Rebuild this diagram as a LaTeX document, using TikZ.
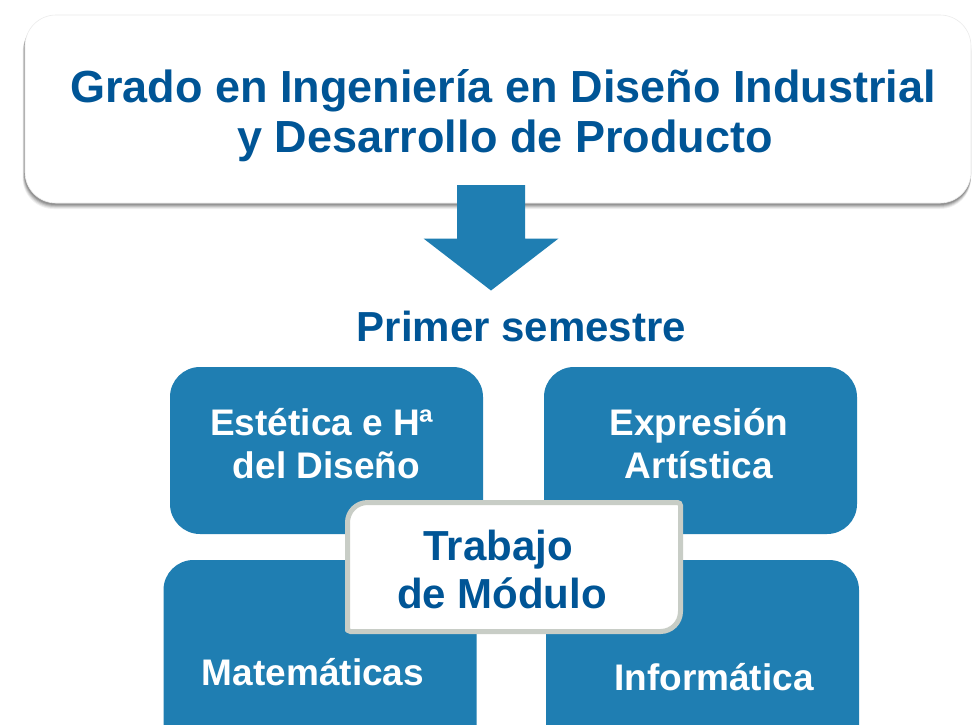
\documentclass[tikz,border=0pt]{standalone}
\usepackage{fontspec}
\setmainfont{Liberation Sans}
\definecolor{boxblue}{RGB}{31,126,178}
\definecolor{textblue}{RGB}{0,85,150}
\definecolor{bordergray}{RGB}{200,205,198}
\tikzset{
  bluebox/.style={fill=boxblue, draw=none, rounded corners=30pt, minimum width=313pt, inner sep=0pt},
  boxtext/.style={text=white, font=\bfseries\fontsize{37}{43}\selectfont, anchor=base, inner sep=0pt},
  titletext/.style={text=textblue, font=\bfseries\fontsize{45}{50}\selectfont, anchor=base, inner sep=0pt},
}
\begin{document}
\begin{tikzpicture}[x=1pt,y=-1pt]
\path[use as bounding box, clip] (0,0) rectangle (972,724);
\fill[white] (0,0) rectangle (972,724);

% top box shadow
\foreach \o/\a in {6/0.06,5/0.08,4/0.10,3/0.12,2/0.14}{
  \fill[black, opacity=\a, rounded corners=31pt] (25-\o*0.4,15+\o) rectangle (971,203+\o);
}
\node (top) [fill=white, draw=black!8, line width=0.6pt, rounded corners=31pt, minimum width=946pt, minimum height=188pt, inner sep=0pt] at (498,109) {};
\node (t1) [titletext] at (503,102) {Grado en Ingeniería en Diseño Industrial};
\node (t2) [titletext] at (505,152) {y Desarrollo de Producto};

% arrow
\fill[boxblue] (457,185) -- (525,185) -- (525,238.5) -- (558.5,238.5) -- (491,290.5) -- (423.5,238.5) -- (457,238.5) -- cycle;

\node (sem) [text=textblue, font=\bfseries\fontsize{42}{48}\selectfont, anchor=base, inner sep=0pt] at (521.5,341.5) {Primer semestre};

% blue boxes
\node (tl) [bluebox, minimum height=167pt] at (326.5,450.5) {};
\node (tr) [bluebox, minimum height=167pt] at (700.5,450.5) {};
\node (bl) [bluebox, minimum height=210pt] at (320,665) {};
\node (br) [bluebox, minimum height=210pt] at (702.5,665) {};

\node (tla) [boxtext] at (322,435) {Estética e Hª};
\node (tlb) [boxtext] at (326.5,478) {del Diseño};
\node (tra) [boxtext] at (699,435) {Expresión};
\node (trb) [boxtext] at (699,478) {Artística};
\node (bla) [boxtext] at (313,685) {Matemáticas};
\node (bra) [boxtext] at (714,690) {Informática};

% central box
\fill[white, draw=bordergray, line width=5pt]
  (347.5,631.5) -- (347.5,522.5) arc[start angle=180, end angle=270, radius=20]
  -- (677.5,502.5) arc[start angle=270, end angle=360, radius=3]
  -- (680.5,611.5) arc[start angle=0, end angle=90, radius=20]
  -- (350.5,631.5) arc[start angle=90, end angle=180, radius=3] -- cycle;
\node (tma) [text=textblue, font=\bfseries\fontsize{42}{48}\selectfont, anchor=base, inner sep=0pt] at (498,560) {Trabajo};
\node (tmb) [text=textblue, font=\bfseries\fontsize{42}{48}\selectfont, anchor=base, inner sep=0pt] at (502,608) {de Módulo};
\end{tikzpicture}
\end{document}
